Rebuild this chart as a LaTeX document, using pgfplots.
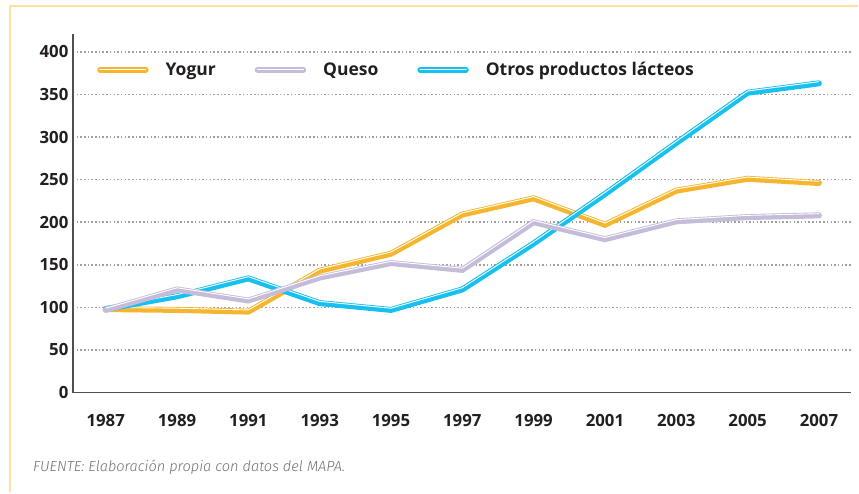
\documentclass[border=0pt]{standalone}
\usepackage{fontspec}
\setmainfont{Open Sans}
\newfontfamily\captfont{Fira Sans Light}
\usepackage{pgfplots}
\usepackage{pgfplotstable}
\pgfplotsset{compat=1.18}
\definecolor{yog}{HTML}{F6B52E}
\definecolor{que}{HTML}{C5BCDA}
\definecolor{otr}{HTML}{17C0EF}
\definecolor{txt}{HTML}{231F20}
\definecolor{brd}{HTML}{FFE2A0}
\definecolor{axc}{HTML}{505050}
\definecolor{grd}{HTML}{A0A0A0}
\definecolor{cap}{HTML}{707070}
\pgfplotstableread{
year val
1987 98
1989 97
1991 95
1993 143
1995 163
1997 209
1999 228
2001 197
2003 237
2005 251
2007 246
}\yogur
\pgfplotstableread{
year val
1987 97
1989 121
1991 108
1993 135
1995 152
1997 144
1999 200
2001 180
2003 201
2005 206
2007 208
}\queso
\pgfplotstableread{
year val
1987 98
1989 113
1991 134
1993 105
1995 97
1997 121
1999 175
2001 233
2003 293
2005 352
2007 363
}\otros
\begin{document}
\begin{tikzpicture}[x=1pt,y=1pt]
\path (0,0) rectangle (859,493);
\draw[brd, line width=2pt] (10,0) -- (10,487) -- (859,487);
\node[anchor=base west, font=\captfont\itshape\fontsize{14.6}{17}\selectfont, text=cap, inner sep=0pt] at (33,21) {FUENTE: Elaboración propia con datos del MAPA.};
\begin{axis}[
  at={(73pt,100pt)}, anchor=south west,
  scale only axis, width=779pt, height=359pt,
  xmin=1986.08, xmax=2007.9, ymin=0, ymax=421,
  axis x line*=bottom, axis y line*=left,
  axis line style={axc, line width=1.5pt, -},
  xtick={1987,1989,...,2007}, ytick={0,50,...,400},
  major tick length=0pt, tick style={draw=none},
  ymajorgrids, grid style={grd, line width=1.5pt, dash pattern=on 1.5pt off 2.2pt},
  /pgf/number format/assume math mode=true,
  /pgf/number format/1000 sep={},
  ticklabel style={font=\bfseries\fontsize{16.8}{20}\selectfont, text=txt},
  xticklabel style={yshift=-18pt},
  yticklabel style={xshift=-1pt},
  legend columns=-1,
  legend style={at={(axis description cs:0.031,0.9)}, anchor=west, draw=none, fill=none,
    font=\bfseries\fontsize{17.5}{20}\selectfont, text=txt, inner sep=0pt,
    /tikz/every even column/.append style={column sep=37pt}},
  legend image code/.code={\draw[#1] (0pt,0pt) -- (46pt,0pt); \draw[white, line width=1pt] (0pt,0pt) -- (46pt,0pt);},
]
\addlegendimage{yog, line width=5.5pt, line cap=round}
\addlegendentry{\hspace{15pt}Yogur}
\addlegendimage{que, line width=5.5pt, line cap=round}
\addlegendentry{\hspace{15pt}Queso}
\addlegendimage{otr, line width=5.5pt, line cap=round}
\addlegendentry{\hspace{15pt}Otros productos lácteos}
\addplot[forget plot, yog, line width=6pt, line cap=round] table[x=year,y=val] {\yogur};
\addplot[forget plot, white, line width=0.9pt, yshift=1.7pt, line cap=butt] table[x=year,y=val] {\yogur};
\addplot[forget plot, otr, line width=6pt, line cap=round] table[x=year,y=val] {\otros};
\addplot[forget plot, white, line width=0.9pt, yshift=1.7pt, line cap=butt] table[x=year,y=val] {\otros};
\addplot[forget plot, que, line width=6pt, line cap=round] table[x=year,y=val] {\queso};
\addplot[forget plot, white, line width=0.9pt, yshift=1.7pt, line cap=butt] table[x=year,y=val] {\queso};
\end{axis}
\end{tikzpicture}
\end{document}
